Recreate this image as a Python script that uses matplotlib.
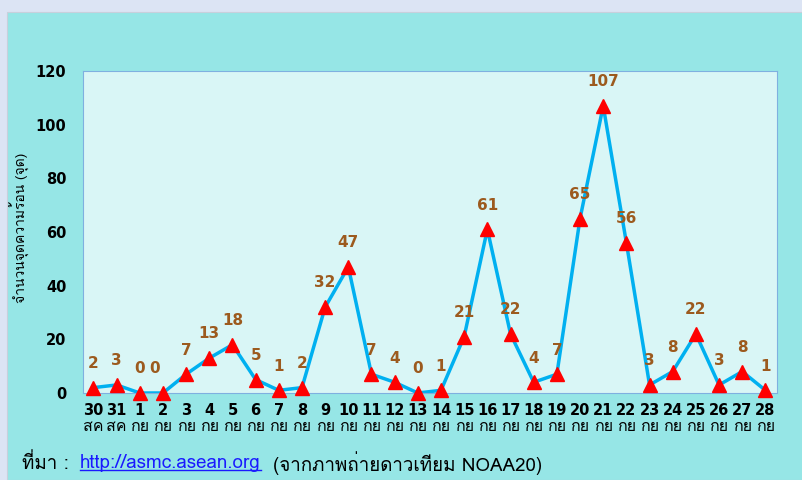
import matplotlib
matplotlib.use("Agg")
import matplotlib.pyplot as plt
import matplotlib.font_manager as fm
from matplotlib.patches import Rectangle
from matplotlib.ft2font import FT2Font

# ข้อมูลจุดความร้อน 30 ส.ค. - 28 ก.ย.
days = ["30", "31"] + [str(d) for d in range(1, 29)]
months = ["สค", "สค"] + ["กย"] * 28
hotspots = [2, 3, 0, 0, 7, 13, 18, 5, 1, 2, 32, 47, 7, 4, 0, 1,
            21, 61, 22, 4, 7, 65, 107, 56, 3, 8, 22, 3, 8, 1]
yticks = [0, 20, 40, 60, 80, 100, 120]


def thai_font():
    """หาฟอนต์ที่มีอักษรไทย"""
    for f in fm.fontManager.ttflist:
        try:
            if 0x0E08 in FT2Font(f.fname).get_charmap():
                return f.name
        except Exception:
            pass
    return "DejaVu Sans"


TH = thai_font()
fams = ["DejaVu Sans", TH]
thfams = [TH, "DejaVu Sans"]

fig = plt.figure(figsize=(8.03, 4.8), dpi=100)
fig.patch.set_facecolor("#dce4f4")
fig.patches.append(Rectangle((7 / 803, 0), 1, 1 - 12 / 480, transform=fig.transFigure,
                             facecolor="#96e6e6", edgecolor="#c8d0dc", lw=0.8, zorder=-10))

ax = fig.add_axes([83 / 803, 1 - 393 / 480, (777 - 83) / 803, (393 - 71) / 480])
ax.set_facecolor("#d9f6f6")
for s in ax.spines.values():
    s.set_color("#7fb0e0")
    s.set_linewidth(0.8)

x = list(range(len(hotspots)))
ax.plot(x, hotspots, color="#00b0f0", lw=2.5, zorder=2)
ax.plot(x, hotspots, ls="none", marker="^", ms=10, color="#ff0000", zorder=3, clip_on=False)

for xi, v in zip(x, hotspots):
    dx = -6 if xi == 3 else 0  # เลข 0 ตัวที่สองเยื้องซ้ายเหมือนต้นฉบับ
    ax.annotate(str(v), (xi, v), xytext=(dx, 12), textcoords="offset points",
                ha="center", va="bottom", fontsize=11, fontweight="bold",
                color="#9c5a1e", family=fams)

ax.set_xlim(-0.45, 29.5)
ax.set_ylim(0, 120)
ax.set_yticks(yticks)
ax.set_yticklabels([str(t) for t in yticks], fontsize=10.5, fontweight="bold", family=fams)
ax.tick_params(axis="y", length=0, pad=12)
ax.set_xticks(x)
ax.set_xticklabels([])
ax.tick_params(axis="x", length=0)

for xi, d, m in zip(x, days, months):
    ax.text(xi, -0.053, d, transform=ax.get_xaxis_transform(), ha="center", va="center",
            fontsize=10.5, fontweight="bold", family=fams)
    ax.text(xi, -0.105, m, transform=ax.get_xaxis_transform(), ha="center", va="center",
            fontsize=11.5, family=thfams)

fig.text(20 / 803, 1 - 228 / 480, "จำนวนจุดความร้อน (จุด)", rotation=90, ha="center",
         va="center", fontsize=10, family=thfams)

# แหล่งที่มา
y_src = 1 - 463 / 480
fig.text(22 / 803, y_src, "ที่มา :", ha="left", va="center", fontsize=13.5, family=thfams)
link = fig.text(80 / 803, y_src, "http://asmc.asean.org", ha="left", va="center",
                fontsize=13.5, color="#1a1aff", family=thfams)
fig.canvas.draw()
bb = link.get_window_extent().transformed(fig.transFigure.inverted())
fig.add_artist(plt.Line2D([bb.x0, bb.x1], [bb.y0 + 0.004] * 2, color="#1a1aff", lw=1))
fig.text(bb.x1 + 12 / 803, y_src, "(จากภาพถ่ายดาวเทียม NOAA20)", ha="left", va="center",
         fontsize=13.5, family=thfams)

fig.savefig("out.png", dpi=100, facecolor=fig.get_facecolor())
